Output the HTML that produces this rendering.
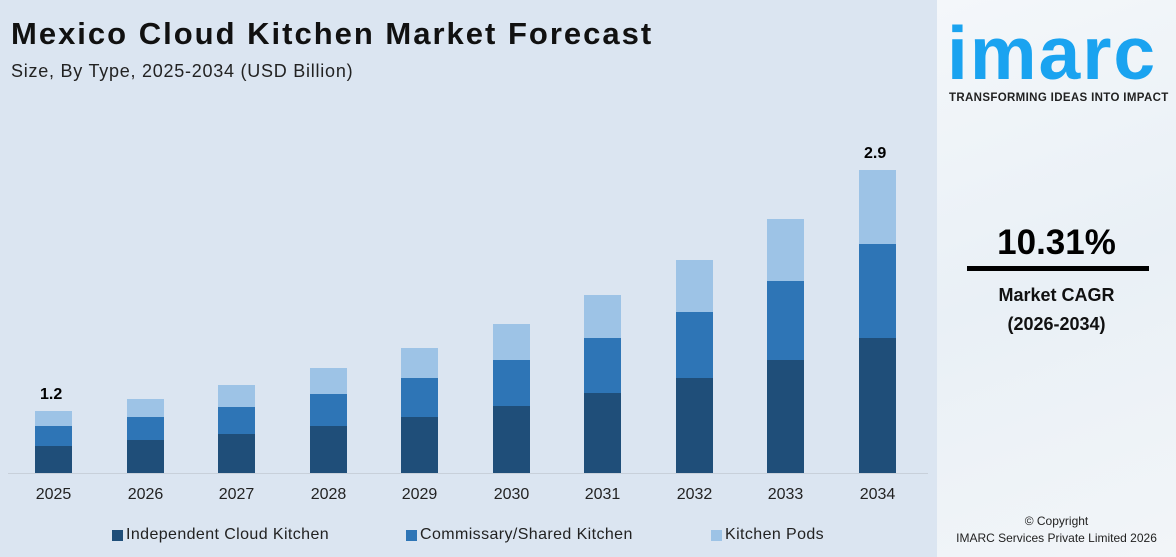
<!DOCTYPE html>
<html><head><style>
body{margin:0;width:1176px;height:557px;overflow:hidden;font-family:"Liberation Sans",Arial,sans-serif;}
.main{position:absolute;left:0;top:0;width:937px;height:557px;background:#dbe5f1;}
.side{position:absolute;left:937px;top:0;width:239px;height:557px;background:linear-gradient(160deg,#f4f7fa 0%,#e9f0f6 50%,#f2f5f8 100%);}
.t{position:absolute;white-space:nowrap;}
.bar{position:absolute;width:37px;}
</style></head><body>
<div class="main">
<div class="t" style="left:11px;top:16px;font-size:31px;font-weight:bold;color:#111;letter-spacing:2px;">Mexico Cloud Kitchen Market Forecast</div>
<div class="t" style="left:11px;top:61px;font-size:18px;color:#222;letter-spacing:0.75px;">Size, By Type, 2025-2034 (USD Billion)</div>
<div style="position:absolute;left:8px;top:473px;width:920px;height:1px;background:#c8d0da;"></div>
<div id="bars"></div>
<div class="t" style="left:40px;top:386px;font-size:16px;font-weight:bold;">1.2</div>
<div class="t" style="left:864px;top:145px;font-size:16px;font-weight:bold;">2.9</div>
<div style="position:absolute;left:112px;top:530px;width:11px;height:11px;background:#1f4e79"></div>
<div class="t" style="left:126px;top:526px;font-size:16px;color:#222;letter-spacing:0.4px;">Independent Cloud Kitchen</div>
<div style="position:absolute;left:406px;top:530px;width:11px;height:11px;background:#2e75b6"></div>
<div class="t" style="left:420px;top:526px;font-size:16px;color:#222;letter-spacing:0.4px;">Commissary/Shared Kitchen</div>
<div style="position:absolute;left:711px;top:530px;width:11px;height:11px;background:#9dc3e6"></div>
<div class="t" style="left:725px;top:526px;font-size:16px;color:#222;letter-spacing:0.4px;">Kitchen Pods</div>
</div>
<div class="side">
<div class="t" style="left:10px;top:16px;font-size:75px;line-height:75px;font-weight:bold;color:#1aa3f0;letter-spacing:2px;">imarc</div>
<div class="t" style="left:12px;top:92px;font-size:11.5px;font-weight:bold;color:#222;letter-spacing:0.35px;">TRANSFORMING IDEAS INTO IMPACT</div>
<div class="t" style="left:0;width:239px;text-align:center;top:223px;font-size:35px;font-weight:bold;color:#000;">10.31%</div>
<div style="position:absolute;left:30px;top:266px;width:182px;height:5px;background:#000"></div>
<div class="t" style="left:0;width:239px;text-align:center;top:285px;font-size:18px;font-weight:bold;color:#111;">Market CAGR</div>
<div class="t" style="left:0;width:239px;text-align:center;top:314px;font-size:18px;font-weight:bold;color:#111;">(2026-2034)</div>
<div class="t" style="left:0;width:239px;text-align:center;top:514px;font-size:12px;color:#222;">© Copyright</div>
<div class="t" style="left:0;width:239px;text-align:center;top:531px;font-size:12px;color:#222;">IMARC Services Private Limited 2026</div>
</div>
<script>
var d=[[411,426,446],[399,417,440],[385,407,434],[368,394,426],[348,378,417],[324,360,406],[295,338,393],[260,312,378],[219,281,360],[170,244,338]];
var h='';
for(var i=0;i<10;i++){var x=Math.round(35+i*91.5),a=d[i];
h+='<div class="bar" style="left:'+x+'px;top:'+a[0]+'px;height:'+(a[1]-a[0])+'px;background:#9dc3e6"></div>';
h+='<div class="bar" style="left:'+x+'px;top:'+a[1]+'px;height:'+(a[2]-a[1])+'px;background:#2e75b6"></div>';
h+='<div class="bar" style="left:'+x+'px;top:'+a[2]+'px;height:'+(473-a[2])+'px;background:#1f4e79"></div>';
h+='<div class="t" style="left:'+(x-12)+'px;width:61px;text-align:center;top:486px;font-size:16px;color:#222;">'+(2025+i)+'</div>';}
document.getElementById('bars').innerHTML=h;
</script>
</body></html>
